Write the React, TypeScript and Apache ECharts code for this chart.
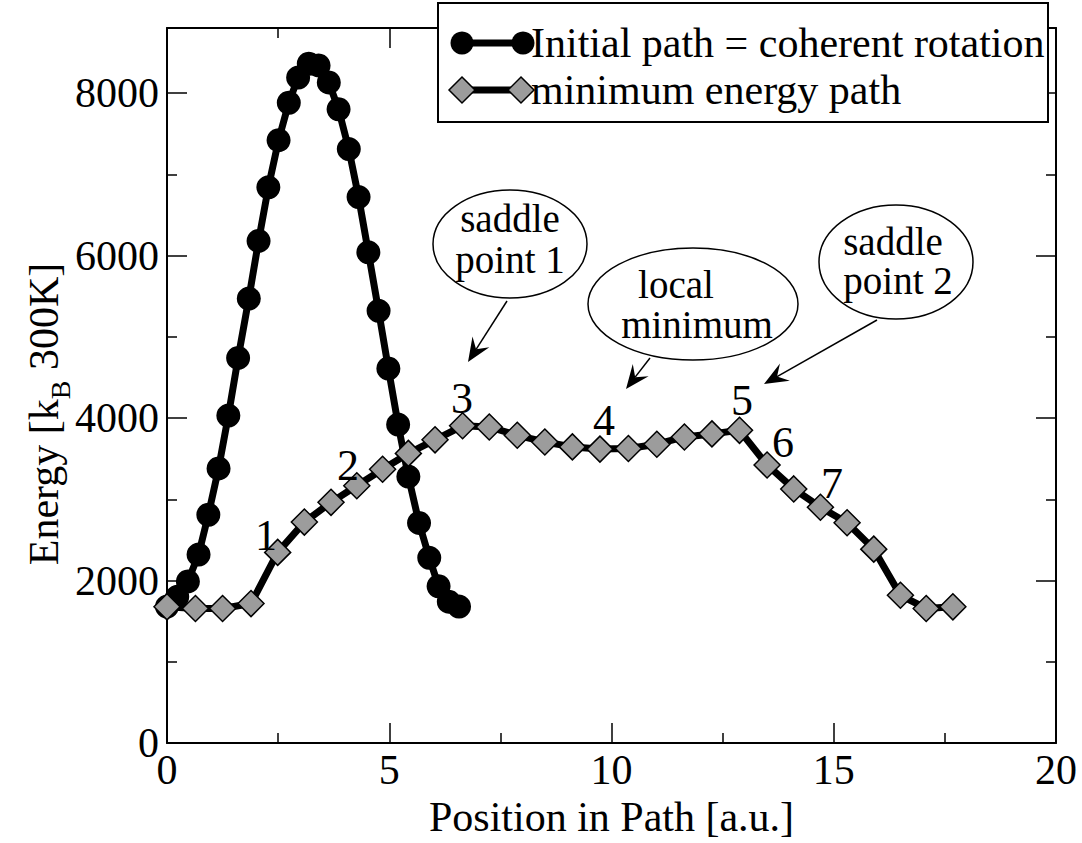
import React, { useEffect, useRef } from "react";
import * as echarts from "echarts";

// Initial path (coherent rotation) — circles
const circleX = [0, 0.23, 0.47, 0.71, 0.93, 1.16, 1.38, 1.6, 1.84, 2.06, 2.28, 2.51, 2.74, 2.95, 3.19, 3.41, 3.64, 3.86, 4.09, 4.31, 4.53, 4.76, 4.98, 5.2, 5.43, 5.67, 5.9, 6.11, 6.34, 6.57];
const circleE = [1680, 1800, 1990, 2320, 2810, 3380, 4030, 4740, 5470, 6180, 6840, 7420, 7880, 8190, 8360, 8340, 8130, 7800, 7310, 6720, 6040, 5320, 4610, 3920, 3280, 2710, 2280, 1930, 1740, 1680];

// Minimum energy path — diamonds
const diamondX = [0, 0.64, 1.25, 1.89, 2.49, 3.09, 3.69, 4.27, 4.85, 5.43, 6.03, 6.65, 7.25, 7.88, 8.5, 9.12, 9.74, 10.38, 11.02, 11.64, 12.26, 12.88, 13.5, 14.1, 14.7, 15.3, 15.9, 16.5, 17.08, 17.68];
const diamondE = [1677, 1657, 1657, 1717, 2347, 2720, 2963, 3167, 3370, 3565, 3732, 3905, 3890, 3788, 3706, 3645, 3618, 3626, 3678, 3767, 3805, 3849, 3423, 3128, 2903, 2712, 2387, 1819, 1657, 1677];

const seriesNames = ["Initial path = coherent rotation", "minimum energy path"];
const pointLabels = ["1", "2", "3", "4", "5", "6", "7"];
const xTitle = "Position in Path [a.u.]";
const yTitleRich = "{a|Energy [k}{b|B}{a| 300K]}";

const FONT = "'Liberation Serif', 'Times New Roman', serif";
const GRAY = "#9c9c9c";

function arrow(x1: number, y1: number, x2: number, y2: number) {
  const dx = x2 - x1;
  const dy = y2 - y1;
  const L = Math.sqrt(dx * dx + dy * dy);
  const ux = dx / L;
  const uy = dy / L;
  const px = -uy;
  const py = ux;
  const headLen = 24;
  const notch = 15;
  const half = 10;
  const bx = x2 - ux * headLen;
  const by = y2 - uy * headLen;
  const nx = x2 - ux * notch;
  const ny = y2 - uy * notch;
  return [
    {
      type: "line",
      shape: { x1, y1, x2: nx, y2: ny },
      style: { stroke: "#000", lineWidth: 1.5 },
      z: 100,
    },
    {
      type: "polygon",
      shape: {
        points: [
          [x2, y2],
          [bx + px * half, by + py * half],
          [nx, ny],
          [bx - px * half, by - py * half],
        ],
      },
      style: { fill: "#000" },
      z: 100,
    },
  ];
}

function txt(text: string, x: number, y: number, size: number, align = "center") {
  return {
    type: "text",
    x,
    y,
    z: 101,
    style: {
      text,
      fill: "#000",
      font: `${size}px ${FONT}`,
      textAlign: align,
      textVerticalAlign: "middle",
    },
  };
}

function ellipse(cx: number, cy: number, rx: number, ry: number) {
  return {
    type: "ellipse",
    shape: { cx, cy, rx, ry },
    style: { fill: "#fff", stroke: "#000", lineWidth: 1.5 },
    z: 99,
  };
}

function diamondPoly(cx: number, cy: number, r: number) {
  return {
    type: "polygon",
    shape: { points: [[cx, cy - r], [cx + r, cy], [cx, cy + r], [cx - r, cy]] },
    style: { fill: GRAY, stroke: "#000", lineWidth: 1.5 },
    z: 202,
  };
}

export default function App() {
  const ref = useRef<HTMLDivElement>(null);
  useEffect(() => {
    if (!ref.current) return;
    const chart = echarts.init(ref.current, undefined, { renderer: "svg" });

    const labelPos = [
      [266, 535],
      [348, 465],
      [462, 398],
      [604, 420],
      [742, 400],
      [783, 442],
      [832, 483],
    ];

    const graphic: any[] = [
      ellipse(510, 244, 77, 54),
      txt("saddle", 510, 218, 39),
      txt("point 1", 510, 259, 39),
      ...arrow(507, 301, 468, 362),
      ellipse(693, 304, 105, 56),
      txt("local", 676, 284, 39),
      txt("minimum", 697, 324, 39),
      ...arrow(650, 358, 626, 389),
      ellipse(896, 262, 77, 57),
      txt("saddle", 893, 241, 39),
      txt("point 2", 898, 280, 39),
      ...arrow(877, 320, 764, 384),
      ...pointLabels.map((t, i) => txt(t, labelPos[i][0], labelPos[i][1], 44)),
      // y-axis title
      {
        type: "text",
        x: 44,
        y: 414,
        rotation: Math.PI / 2,
        z: 101,
        style: {
          text: yTitleRich,
          textAlign: "center",
          textVerticalAlign: "middle",
          fill: "#000",
          rich: {
            a: { fontFamily: FONT, fontSize: 42, fill: "#000", lineHeight: 60, verticalAlign: "middle" },
            b: { fontFamily: FONT, fontSize: 28, fill: "#000", lineHeight: 28, verticalAlign: "bottom" },
          },
        },
      },
      // legend
      {
        type: "rect",
        shape: { x: 438, y: 3, width: 610, height: 119 },
        style: { fill: "#fff", stroke: "#000", lineWidth: 2 },
        z: 200,
      },
      {
        type: "line",
        shape: { x1: 462, y1: 43, x2: 523, y2: 43 },
        style: { stroke: "#000", lineWidth: 7 },
        z: 201,
      },
      { type: "circle", shape: { cx: 462, cy: 43, r: 11.5 }, style: { fill: "#000" }, z: 202 },
      { type: "circle", shape: { cx: 523, cy: 43, r: 11.5 }, style: { fill: "#000" }, z: 202 },
      { ...txt(seriesNames[0], 531, 43, 42, "left"), z: 203 },
      {
        type: "line",
        shape: { x1: 462, y1: 90, x2: 521, y2: 90 },
        style: { stroke: "#000", lineWidth: 7 },
        z: 201,
      },
      diamondPoly(462, 90, 13),
      diamondPoly(521, 90, 13),
      { ...txt(seriesNames[1], 531, 90, 42, "left"), z: 203 },
    ];

    const axisCommon = {
      type: "value",
      axisLine: { show: true, onZero: false, lineStyle: { color: "#000", width: 2 } },
      axisTick: { show: true, inside: true, length: 20, lineStyle: { color: "#000", width: 1.5 } },
      minorTick: { show: true, splitNumber: 2, length: 10, lineStyle: { color: "#000", width: 1.5 } },
      splitLine: { show: false },
      minorSplitLine: { show: false },
    };

    chart.setOption({
      animation: false,
      backgroundColor: "#fff",
      grid: { left: 167, right: 26, top: 28, bottom: 92 },
      xAxis: [
        {
          ...axisCommon,
          position: "bottom",
          min: 0,
          max: 20,
          interval: 5,
          axisLabel: {
            show: true,
            color: "#000",
            fontFamily: FONT,
            fontSize: 42,
            margin: 6,
            formatter: (v: number) => String(v),
          },
          name: xTitle,
          nameLocation: "middle",
          nameGap: 38,
          nameTextStyle: { color: "#000", fontFamily: FONT, fontSize: 42 },
        },
        {
          ...axisCommon,
          position: "top",
          min: 0,
          max: 20,
          interval: 5,
          axisLabel: { show: false },
        },
      ],
      yAxis: [
        {
          ...axisCommon,
          position: "left",
          min: 0,
          max: 8800,
          interval: 2000,
          axisLabel: {
            show: true,
            color: "#000",
            fontFamily: FONT,
            fontSize: 42,
            margin: 8,
            showMaxLabel: false,
            formatter: (v: number) => String(v),
          },
        },
        {
          ...axisCommon,
          position: "right",
          min: 0,
          max: 8800,
          interval: 2000,
          axisLabel: { show: false },
        },
      ],
      series: [
        {
          name: seriesNames[0],
          type: "line",
          xAxisIndex: 0,
          yAxisIndex: 0,
          data: circleX.map((x, i) => [x, circleE[i]]),
          symbol: "circle",
          symbolSize: 24,
          showAllSymbol: true,
          lineStyle: { color: "#000", width: 7 },
          itemStyle: { color: "#000", borderColor: "#000", borderWidth: 0 },
          z: 2,
        },
        {
          name: seriesNames[1],
          type: "line",
          xAxisIndex: 0,
          yAxisIndex: 0,
          data: diamondX.map((x, i) => [x, diamondE[i]]),
          symbol: "diamond",
          symbolSize: 26,
          showAllSymbol: true,
          lineStyle: { color: "#000", width: 7 },
          itemStyle: { color: GRAY, borderColor: "#000", borderWidth: 1.5 },
          z: 3,
        },
      ],
      graphic,
    });

    return () => chart.dispose();
  }, []);

  return (
    <div
      ref={ref}
      style={{ position: "absolute", left: 0, top: 0, width: 1082, height: 843, background: "#fff" }}
    />
  );
}
